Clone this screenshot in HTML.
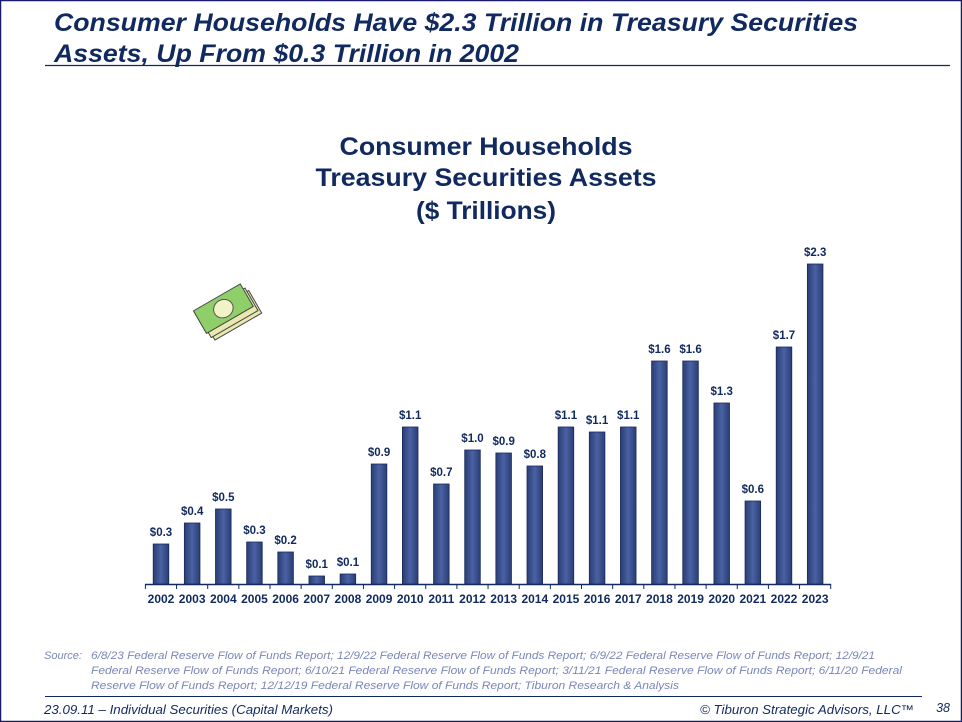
<!DOCTYPE html>
<html><head><meta charset="utf-8"><style>
html,body{margin:0;padding:0;background:#fff}
svg{display:block}
</style></head><body>
<svg width="962" height="722" viewBox="0 0 962 722" xmlns="http://www.w3.org/2000/svg" font-family="Liberation Sans, sans-serif">
<defs>
<linearGradient id="g" x1="0" y1="0" x2="1" y2="0">
<stop offset="0" stop-color="#2a3d74"/><stop offset="0.5" stop-color="#4a62a4"/><stop offset="1" stop-color="#2a3d74"/>
</linearGradient>
</defs>
<rect x="0.5" y="0.5" width="961" height="721" fill="#fff" stroke="#1a1a6e" stroke-width="1.5"/>
<g fill="#10295e" font-weight="bold" font-style="italic" font-size="25">
<text x="54" y="31" textLength="804" lengthAdjust="spacingAndGlyphs">Consumer Households Have $2.3 Trillion in Treasury Securities</text>
<text x="54" y="62" textLength="465" lengthAdjust="spacingAndGlyphs">Assets, Up From $0.3 Trillion in 2002</text>
</g>
<line x1="45" y1="65.5" x2="950" y2="65.5" stroke="#10295e" stroke-width="1.2"/>
<g fill="#10295e" font-weight="bold" font-size="25" text-anchor="middle">
<text x="486" y="155" textLength="293" lengthAdjust="spacingAndGlyphs">Consumer Households</text>
<text x="486" y="186" textLength="341" lengthAdjust="spacingAndGlyphs">Treasury Securities Assets</text>
<text x="486" y="219" textLength="140" lengthAdjust="spacingAndGlyphs">($ Trillions)</text>
</g>
<g transform="translate(193,280) rotate(-30 30 30)">
<rect x="8" y="26" width="54" height="26" fill="#e8e8b0" stroke="#444" stroke-width="1"/>
<rect x="6" y="22" width="54" height="26" fill="#e8e8b0" stroke="#444" stroke-width="1"/>
<rect x="4" y="16" width="54" height="26" fill="#8fcf6a" stroke="#444" stroke-width="1"/>
<ellipse cx="31" cy="29" rx="10" ry="9" fill="#f2f2c8" stroke="#555"/>
</g>
<line x1="145" y1="584.5" x2="831" y2="584.5" stroke="#10295e" stroke-width="1.5"/>
<g id="bars" fill="url(#g)" stroke="#1a2a5e" stroke-width="0.8"></g>
<g id="vals" fill="#10295e" font-weight="bold" font-size="11.5" text-anchor="middle"></g>
<g id="yrs" fill="#10295e" font-weight="bold" font-size="12" text-anchor="middle"></g>
<g id="ticks" stroke="#10295e" stroke-width="1"></g>
<g fill="#7a86b8" font-style="italic" font-size="11">
<text x="44" y="659">Source:</text>
<text x="91" y="659" textLength="784" lengthAdjust="spacingAndGlyphs">6/8/23 Federal Reserve Flow of Funds Report; 12/9/22 Federal Reserve Flow of Funds Report; 6/9/22 Federal Reserve Flow of Funds Report; 12/9/21</text>
<text x="91" y="674" textLength="811" lengthAdjust="spacingAndGlyphs">Federal Reserve Flow of Funds Report; 6/10/21 Federal Reserve Flow of Funds Report; 3/11/21 Federal Reserve Flow of Funds Report; 6/11/20 Federal</text>
<text x="91" y="689" textLength="588" lengthAdjust="spacingAndGlyphs">Reserve Flow of Funds Report; 12/12/19 Federal Reserve Flow of Funds Report; Tiburon Research &amp; Analysis</text>
</g>
<line x1="45" y1="696.5" x2="922" y2="696.5" stroke="#10295e" stroke-width="1"/>
<g fill="#10295e" font-style="italic" font-size="12.5">
<text x="44" y="714" textLength="289" lengthAdjust="spacingAndGlyphs">23.09.11 – Individual  Securities (Capital Markets)</text>
<text x="914" y="714" text-anchor="end" textLength="214" lengthAdjust="spacingAndGlyphs">© Tiburon Strategic Advisors, LLC™</text>
<text x="950" y="712" text-anchor="end">38</text>
</g>
<script>
var tops=[544,523,509,542,552,576,574,464,427,484,450,453,466,427,432,427,361,361,403,501,347,264];
var v=["$0.3","$0.4","$0.5","$0.3","$0.2","$0.1","$0.1","$0.9","$1.1","$0.7","$1.0","$0.9","$0.8","$1.1","$1.1","$1.1","$1.6","$1.6","$1.3","$0.6","$1.7","$2.3"];
var ns="http://www.w3.org/2000/svg";
function el(p,t,a,txt){var e=document.createElementNS(ns,t);for(var k in a)e.setAttribute(k,a[k]);if(txt)e.textContent=txt;document.getElementById(p).appendChild(e);}
for(var i=0;i<22;i++){var c=161+i*31.15;
el("bars","rect",{x:c-7.8,y:tops[i],width:15.6,height:584-tops[i]});
el("vals","text",{x:c,y:tops[i]-8},v[i]);
el("yrs","text",{x:c,y:603},String(2002+i));
el("ticks","line",{x1:c-15.6,y1:584,x2:c-15.6,y2:589});}
el("ticks","line",{x1:161+21.5*31.15,y1:584,x2:161+21.5*31.15,y2:589});
</script>
</svg>
</body></html>
